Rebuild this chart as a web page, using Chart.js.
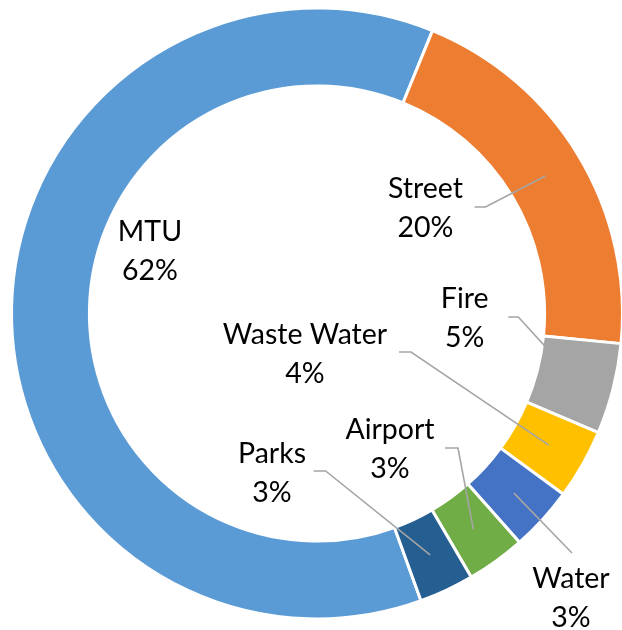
<!DOCTYPE html>
<html><head><meta charset="utf-8">
<script src="https://cdn.jsdelivr.net/npm/chart.js@4"></script>
<style>html,body{margin:0;padding:0;background:#fff;}#wrap{width:622px;height:630px;position:relative;}</style>
</head><body><div id="wrap"><canvas id="c" width="622" height="630"></canvas></div>
<script>
const categories = ['MTU', 'Street', 'Fire', 'Waste Water', 'Water', 'Airport', 'Parks'];
const values = [61.7, 20.4, 4.8, 3.7, 3.4, 3.1, 2.9];
const colors = ['#5B9BD5', '#ED7D31', '#A5A5A5', '#FFC000', '#4472C4', '#70AD47', '#255E91'];

// label layout (style): block centre offset from chart centre, px
const labelOffsets = [[-167, -62], [108.5, -105], [147.7, 4.5], [-12, 40.5], [254, 285], [73, 135.5], [-45, 160]];
// leader start relative to label centre (null = no leader), elbow length, clip at ring inner edge
const leaderStarts = [null, [49, -1.5], [43.6, -1], [94, -2], [1, -45.5], [55, -1], [41.6, -2.5]];
const leaderElbow = [0, 11, 10, 12, 0, 13, 12];
const leaderClip = [false, false, true, false, false, false, false];

const FONT = '28.5px Lato';
const LINE_GAP = 39;

const labelPlugin = {
  id: 'excelLabels',
  afterDatasetsDraw(chart) {
    const ctx = chart.ctx;
    const meta = chart.getDatasetMeta(0);
    const total = values.reduce((a, b) => a + b, 0);
    const bw = chart.data.datasets[0].borderWidth;
    meta.data.forEach((arc, i) => {
      const cx = arc.x, cy = arc.y;
      const lx = cx + labelOffsets[i][0], ly = cy + labelOffsets[i][1];
      if (leaderStarts[i]) {
        const mid = (arc.startAngle + arc.endAngle) / 2;
        const rMid = (arc.innerRadius + arc.outerRadius) / 2;
        let ax = cx + Math.cos(mid) * rMid, ay = cy + Math.sin(mid) * rMid;
        const sx = lx + leaderStarts[i][0], sy = ly + leaderStarts[i][1];
        const ex = sx + leaderElbow[i], ey = sy;
        if (leaderClip[i]) {
          const rIn = arc.innerRadius + bw / 2;
          const dx = ax - ex, dy = ay - ey;
          const fx = ex - cx, fy = ey - cy;
          const a = dx * dx + dy * dy, b = 2 * (fx * dx + fy * dy), c = fx * fx + fy * fy - rIn * rIn;
          const disc = b * b - 4 * a * c;
          if (disc >= 0) {
            const t = (-b - Math.sqrt(disc)) / (2 * a);
            if (t > 0 && t < 1) { ax = ex + dx * t; ay = ey + dy * t; }
          }
        }
        ctx.save();
        ctx.strokeStyle = '#A5A5A5';
        ctx.lineWidth = 1.6;
        ctx.beginPath();
        ctx.moveTo(sx, sy);
        ctx.lineTo(ex, ey);
        ctx.lineTo(ax, ay);
        ctx.stroke();
        ctx.restore();
      }
      const pct = Math.round(values[i] / total * 100) + '%';
      ctx.save();
      ctx.font = FONT;
      ctx.fillStyle = '#000000';
      ctx.textAlign = 'center';
      ctx.textBaseline = 'middle';
      ctx.fillText(categories[i], lx, ly - LINE_GAP / 2);
      ctx.fillText(pct, lx, ly + LINE_GAP / 2);
      ctx.restore();
    });
  }
};

new Chart(document.getElementById('c'), {
  type: 'doughnut',
  data: {
    labels: categories,
    datasets: [{
      data: values,
      backgroundColor: colors,
      borderColor: '#ffffff',
      borderWidth: 3,
      hoverOffset: 0
    }]
  },
  options: {
    responsive: false,
    devicePixelRatio: 1,
    animation: false,
    rotation: 160.1,
    radius: 305.5,
    cutout: '74.5%',
    layout: { padding: { left: 12, top: 8, right: 0, bottom: 11 } },
    events: [],
    plugins: { legend: { display: false }, tooltip: { enabled: false } }
  },
  plugins: [labelPlugin]
});
</script>
</body></html>
